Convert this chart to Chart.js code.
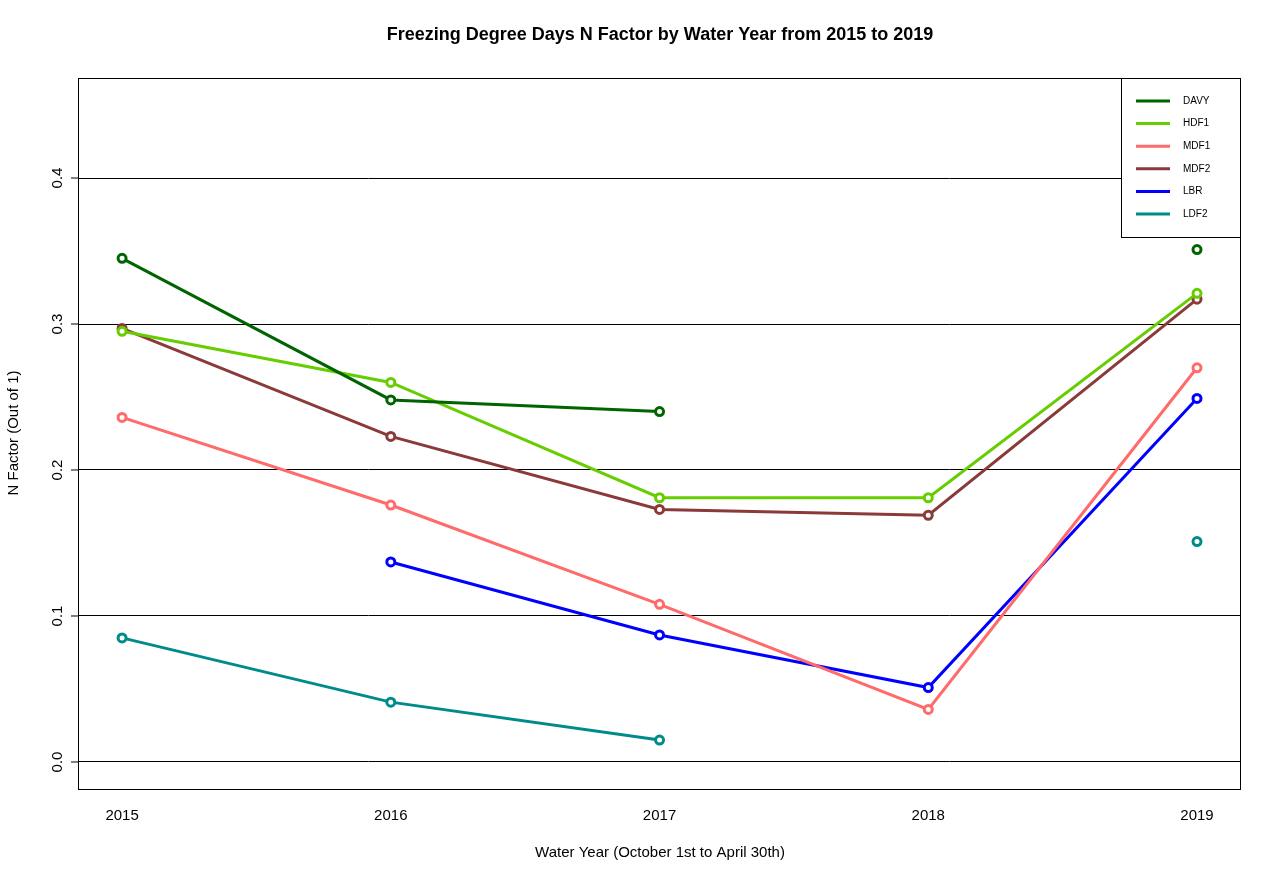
<!DOCTYPE html>
<html>
<head>
<meta charset="utf-8">
<script src="https://cdn.jsdelivr.net/npm/chart.js@4/dist/chart.umd.min.js"></script>
<style>body{margin:0;background:#fff}</style>
</head>
<body>
<canvas id="c" width="1280" height="887"></canvas>
<script>
const years = [2015, 2016, 2017, 2018, 2019];
const yTicks = [0, 0.1, 0.2, 0.3, 0.4];
const names = ["DAVY", "HDF1", "MDF1", "MDF2", "LBR", "LDF2"];
const colors = ["#006400", "#66CD00", "#FF6A6A", "#8B3A3A", "#0000FF", "#008B8B"];
const davy = [0.345, 0.248, 0.240, null, 0.351];
const hdf1 = [0.295, 0.260, 0.181, 0.181, 0.321];
const mdf1 = [0.236, 0.176, 0.108, 0.036, 0.270];
const mdf2 = [0.297, 0.223, 0.173, 0.169, 0.317];
const lbr  = [null, 0.137, 0.087, 0.051, 0.249];
const ldf2 = [0.085, 0.041, 0.015, null, 0.151];
const series = [davy, hdf1, mdf1, mdf2, lbr, ldf2];

const FONT = "Arial, 'Liberation Sans', sans-serif";

const datasets = series.map((vals, i) => ({
  label: names[i],
  data: vals.map((v, j) => ({ x: years[j], y: v })),
  borderColor: colors[i],
  borderWidth: 3,
  pointRadius: 4,
  pointBorderWidth: 3,
  pointBackgroundColor: "#fff",
  pointBorderColor: colors[i],
  spanGaps: false,
  tension: 0
}));

const decor = {
  id: "decor",
  afterDraw(chart) {
    const { ctx, chartArea: a } = chart;
    const ys = chart.scales.y;
    ctx.save();
    ctx.strokeStyle = "#000";
    ctx.lineWidth = 1;
    ctx.strokeRect(a.left + 0.5, a.top + 0.5, a.right - a.left, a.bottom - a.top);
    // y ticks (rotated, R style)
    ctx.fillStyle = "#000";
    ctx.font = "15px " + FONT;
    yTicks.forEach(t => {
      const py = ys.getPixelForValue(t);
      ctx.beginPath();
      ctx.moveTo(a.left, py); ctx.lineTo(a.left - 7, py); ctx.stroke();
      ctx.save();
      ctx.translate(a.left - 20, py);
      ctx.rotate(-Math.PI / 2);
      ctx.textAlign = "center";
      ctx.textBaseline = "middle";
      ctx.fillText(t.toFixed(1), 0, 0);
      ctx.restore();
    });
    // titles
    ctx.textAlign = "center";
    ctx.font = "bold 18px " + FONT;
    ctx.fillText("Freezing Degree Days N Factor by Water Year from 2015 to 2019", 660, 40);
    ctx.font = "15px " + FONT;
    ctx.fillText("Water Year (October 1st to April 30th)", 660, 857);
    ctx.save();
    ctx.translate(18, 433);
    ctx.rotate(-Math.PI / 2);
    ctx.fillText("N Factor (Out of 1)", 0, 0);
    ctx.restore();
    // legend box
    const lx = 1121, ly = 78, lw = 119, lh = 159;
    ctx.fillStyle = "#fff";
    ctx.fillRect(lx, ly, lw, lh);
    ctx.strokeRect(lx + 0.5, ly + 0.5, lw, lh);
    ctx.textAlign = "left";
    ctx.textBaseline = "middle";
    ctx.font = "10px " + FONT;
    names.forEach((n, i) => {
      const yy = 101 + i * 22.6;
      ctx.strokeStyle = colors[i];
      ctx.lineWidth = 3;
      ctx.beginPath(); ctx.moveTo(1136, yy); ctx.lineTo(1170, yy); ctx.stroke();
      ctx.fillStyle = "#000";
      ctx.fillText(n, 1183, yy);
    });
    ctx.restore();
  }
};

new Chart(document.getElementById("c"), {
  type: "line",
  data: { datasets },
  plugins: [decor],
  options: {
    responsive: false,
    animation: false,
    layout: { padding: { top: 78, right: 40, left: 0, bottom: 0 } },
    plugins: { legend: { display: false }, title: { display: false }, tooltip: { enabled: false } },
    scales: {
      x: {
        type: "linear",
        min: 2014.836, max: 2019.16,
        afterBuildTicks: s => { s.ticks = years.map(v => ({ value: v })); },
        afterFit: s => { s.height = 98; },
        grid: { display: false, drawTicks: true },
        border: { display: false },
        ticks: { color: "#000", font: { size: 15, family: FONT }, padding: 10, callback: v => String(v) }
      },
      y: {
        min: -0.0185, max: 0.4685,
        afterBuildTicks: s => { s.ticks = yTicks.map(v => ({ value: v })); },
        afterFit: s => { s.width = 78; },
        border: { display: false },
        grid: { color: "#000", lineWidth: 1, tickLength: 0, drawTicks: false },
        ticks: { display: false }
      }
    }
  },
  plugins: [decor, {
    id: "dash",
    beforeDatasetsDraw() {}
  }]
});
</script>
</body>
</html>
